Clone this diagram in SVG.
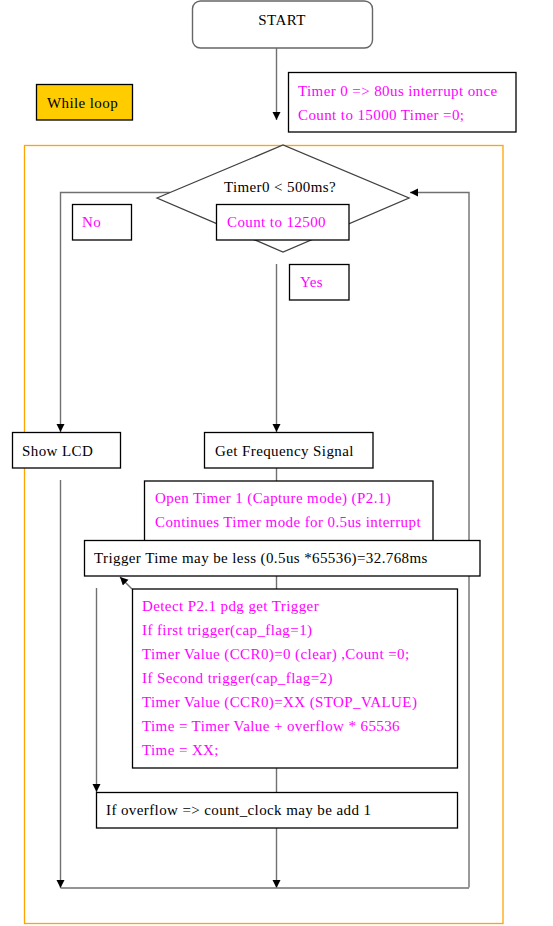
<svg xmlns="http://www.w3.org/2000/svg" width="553" height="926" viewBox="0 0 553 926">
<defs>
<marker id="ah" markerUnits="userSpaceOnUse" markerWidth="10" markerHeight="10" refX="8" refY="4" orient="auto">
<path d="M0,0 L8,4 L0,8 z" fill="#000"/>
</marker>
<style>
text{font-family:"Liberation Serif","Times New Roman",serif;font-size:15px;letter-spacing:0.4px;fill:#000}
.m{fill:#ff00ff}
.box{fill:#fff;stroke:#000;stroke-width:1.3}
.con{fill:none;stroke:#707070;stroke-width:1.4}
.arr{marker-end:url(#ah)}
</style>
</defs>
<rect width="553" height="926" fill="#fff"/>
<g id="loop-frame"><rect x="24.5" y="145.5" width="478.5" height="778" fill="none" stroke="#ffa500" stroke-width="1.3"/></g>
<g id="connectors">
<line class="con arr" x1="276.5" y1="48" x2="276.5" y2="120"/>
<polyline class="con" points="170,192.5 60.5,192.5 60.5,424"/>
<line class="con arr" x1="60.5" y1="424" x2="60.5" y2="432"/>
<polyline class="con arr" points="469,887.5 469,192.5 410,192.5"/>
<line class="con arr" x1="276.5" y1="264" x2="276.5" y2="432"/>
<line class="con" x1="276.5" y1="468" x2="276.5" y2="481"/>
<line class="con" x1="276.5" y1="576" x2="276.5" y2="589"/>
<line class="con" x1="276.5" y1="768" x2="276.5" y2="792"/>
<line class="con arr" x1="60.5" y1="480" x2="60.5" y2="888"/>
<line class="con arr" x1="276.5" y1="828" x2="276.5" y2="888"/>
<line class="con" x1="60.5" y1="888" x2="469" y2="888"/>
<line class="con arr" x1="96.5" y1="588" x2="96.5" y2="792"/>
<line class="con arr" x1="132" y1="589" x2="120" y2="577"/>
</g>
<g id="start"><rect x="192.5" y="1" width="180" height="47" rx="8" fill="#fff" stroke="#666" stroke-width="1.4"/><text x="282" y="25" text-anchor="middle">START</text></g>
<g id="timer0-note"><rect class="box" x="288.5" y="72.5" width="227.5" height="59.5"/><text class="m" x="298" y="96">Timer 0 =&gt; 80us interrupt once</text><text class="m" x="298" y="120">Count to 15000 Timer =0;</text></g>
<g id="while-loop"><rect x="36.5" y="84.5" width="96" height="35.5" fill="#ffcc00" stroke="#000" stroke-width="1.3"/><text x="47" y="108">While loop</text></g>
<g id="decision"><polygon points="157,198 283,145 409,198 283,252" fill="#fff" stroke="#404040" stroke-width="1.3"/><text x="280" y="192" text-anchor="middle">Timer0 &lt; 500ms?</text></g>
<g id="count-note"><rect class="box" x="216.5" y="204.5" width="132.5" height="35.5"/><text class="m" x="227" y="227">Count to 12500</text></g>
<g id="no-label"><rect class="box" x="72.5" y="204.5" width="59" height="35.5"/><text class="m" x="82" y="227">No</text></g>
<g id="yes-label"><rect class="box" x="289.5" y="264.5" width="59.5" height="35.5"/><text class="m" x="300" y="287">Yes</text></g>
<g id="show-lcd"><rect class="box" x="12.5" y="432.5" width="108" height="35.5"/><text x="22" y="456">Show LCD</text></g>
<g id="get-freq"><rect class="box" x="204.5" y="432.5" width="168.5" height="35.5"/><text x="215" y="456">Get Frequency Signal</text></g>
<g id="open-timer1"><rect class="box" x="144.5" y="481" width="288.5" height="60"/><text class="m" x="155" y="503">Open Timer 1 (Capture mode) (P2.1)</text><text class="m" x="155" y="527">Continues Timer mode for 0.5us interrupt</text></g>
<g id="trigger-time"><rect class="box" x="84.5" y="540.5" width="395.5" height="35.5"/><text x="94" y="563">Trigger Time may be less (0.5us *65536)=32.768ms</text></g>
<g id="detect"><rect class="box" x="132.5" y="589" width="325" height="179"/>
<text class="m" x="142" y="611">Detect P2.1 pdg get Trigger</text>
<text class="m" x="142" y="635">If first trigger(cap_flag=1)</text>
<text class="m" x="142" y="659">Timer Value (CCR0)=0 (clear) ,Count =0;</text>
<text class="m" x="142" y="683">If Second trigger(cap_flag=2)</text>
<text class="m" x="142" y="707">Timer Value (CCR0)=XX (STOP_VALUE)</text>
<text class="m" x="142" y="731">Time = Timer Value + overflow * 65536</text>
<text class="m" x="142" y="755">Time = XX;</text></g>
<g id="overflow"><rect class="box" x="96.5" y="792.5" width="361" height="35.5"/><text x="106" y="815">If overflow =&gt; count_clock may be add 1</text></g>
</svg>
